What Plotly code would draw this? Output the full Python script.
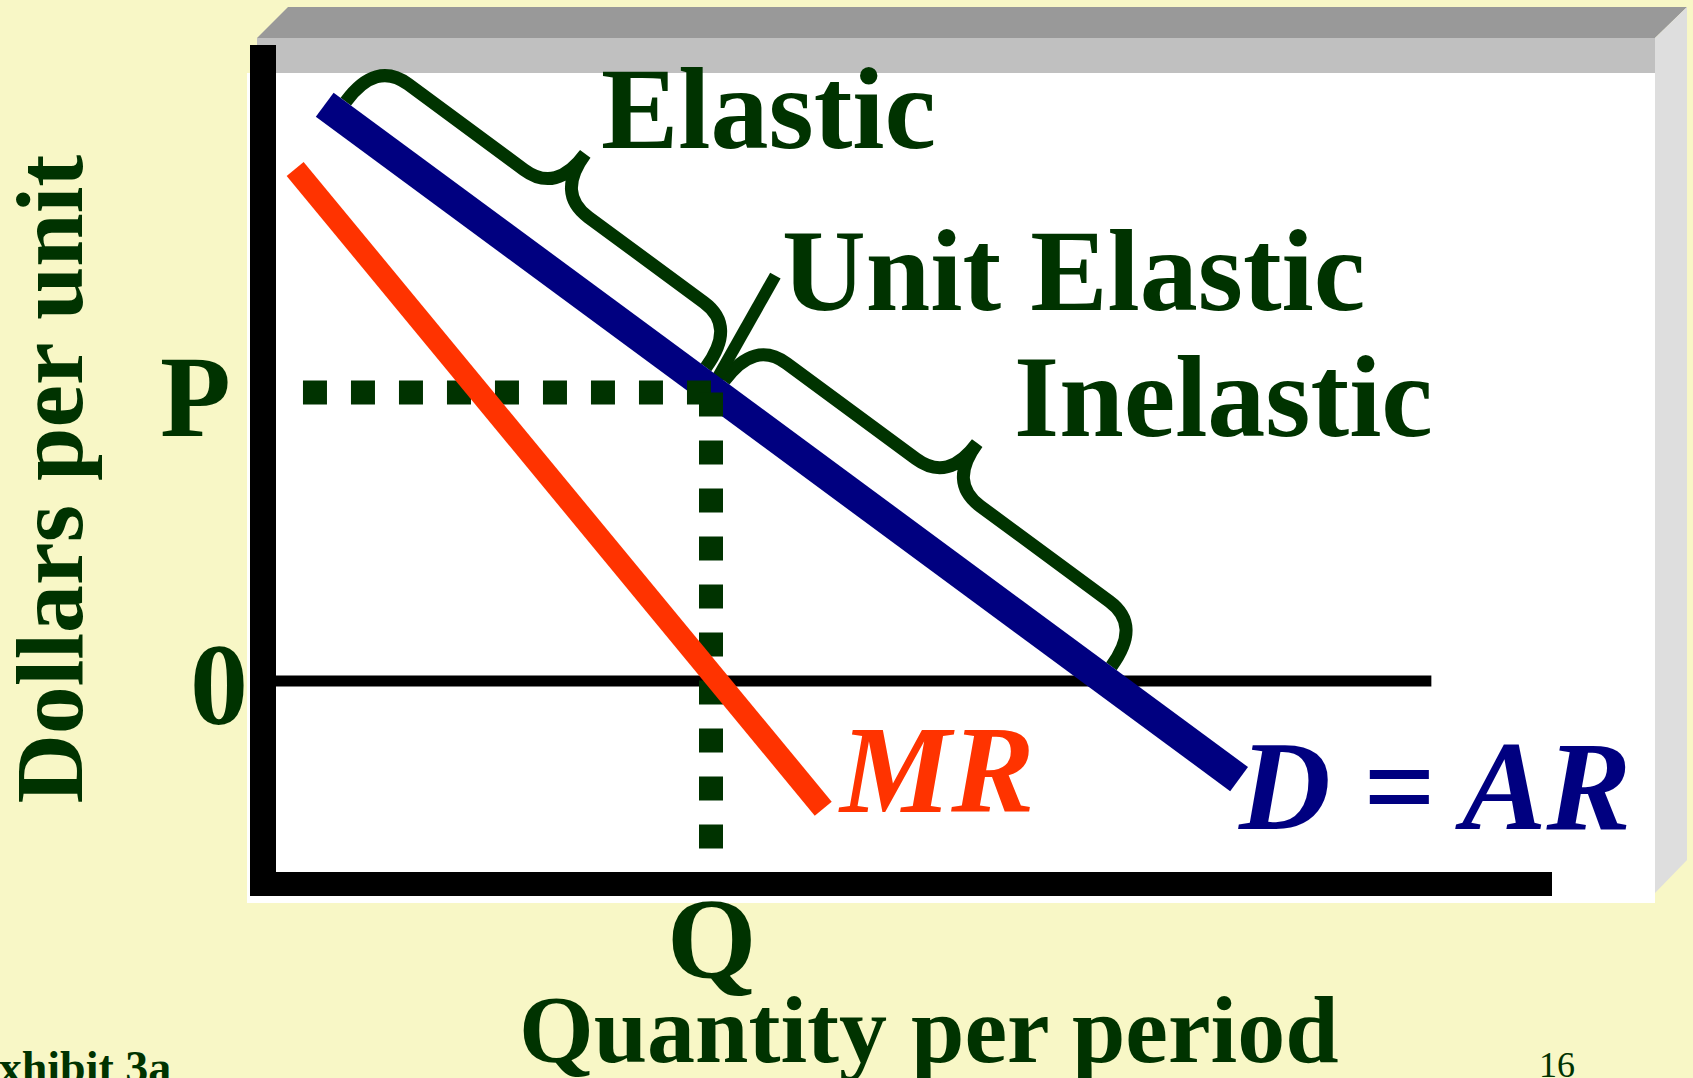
import math
import plotly.graph_objects as go

W, H = 1693, 1078

# ---------------- data (economic units: quantity on x, dollars on y) ----------------
demand_q = [0.56, 11.07]          # D = AR line end points
demand_p = [7.99, -1.36]
mr_q = [0.22, 6.29]               # MR line end points
mr_p = [7.10, -1.77]
q_star = 5.0                      # unit-elastic quantity Q
p_star = 4.0                      # price P
guide_q_start = 0.31              # dotted price guide starts here
guide_p_end = -2.33               # dotted quantity guide ends here
zero_line_q = [0.0, 13.28]        # extent of the zero-dollar line
elastic_q = [0.70, 4.84]          # elastic brace span along demand
inelastic_q = [5.05, 9.50]        # inelastic brace span along demand
unit_pointer_q = [5.74, 5.05]     # pointer from "Unit Elastic" to the demand curve
unit_pointer_p = [5.62, 4.15]

region_labels = ["Elastic", "Unit Elastic", "Inelastic"]
axis_titles = ["Dollars per unit", "Quantity per period"]
tick_labels = ["P", "0", "Q"]
curve_labels = ["MR", "D = AR"]
footer_labels = ["Exhibit 3a", "16"]

# ---------------- styling ----------------
GREEN = "#003300"
NAVY = "#000080"
RED = "#FF3300"
BG = "#F8F7C6"
FONT = "Liberation Serif, Times New Roman, serif"

# pixel mapping of the economic axes (origin at the zero line / vertical axis)
ORIGIN_X, ORIGIN_Y = 276.0, 681.0
SX, SY = 87.0, 72.125
x_range = [(0 - ORIGIN_X) / SX, (W - ORIGIN_X) / SX]
y_range = [(ORIGIN_Y - H) / SY, ORIGIN_Y / SY]


def to_px(q, p):
    return ORIGIN_X + q * SX, ORIGIN_Y - p * SY


def to_data(x, y):
    return (x - ORIGIN_X) / SX, (ORIGIN_Y - y) / SY


def demand_at(q):
    t = (q - demand_q[0]) / (demand_q[1] - demand_q[0])
    return demand_p[0] + t * (demand_p[1] - demand_p[0])


def brace_path(q_a, q_b, vb=66, ve=15, r=40, c=49):
    x0, y0 = to_px(demand_q[0], demand_p[0])
    x1, y1 = to_px(demand_q[1], demand_p[1])
    L = math.hypot(x1 - x0, y1 - y0)
    dx, dy = (x1 - x0) / L, (y1 - y0) / L
    nx, ny = dy, -dx
    ax, ay = to_px(q_a, demand_at(q_a))
    bx, by = to_px(q_b, demand_at(q_b))
    length = math.hypot(bx - ax, by - ay)
    m = length / 2

    def P(u, v):
        q, p = to_data(ax + u * dx + v * nx, ay + u * dy + v * ny)
        return f"{q:.4f},{p:.4f}"

    return (f"M {P(0, ve)} Q {P(0, vb)} {P(r, vb)} L {P(m - r, vb)} "
            f"Q {P(m, vb)} {P(m, vb + c)} Q {P(m, vb)} {P(m + r, vb)} "
            f"L {P(length - r, vb)} Q {P(length, vb)} {P(length, ve)}")


def px_poly(points):
    return "M " + " L ".join(f"{x / W:.5f},{1 - y / H:.5f}" for x, y in points) + " Z"


def px_rect(x0, y0, x1, y1, color):
    return dict(type="rect", xref="paper", yref="paper", x0=x0 / W, x1=x1 / W,
                y0=1 - y1 / H, y1=1 - y0 / H, fillcolor=color, line=dict(width=0),
                layer="below")


shapes = [
    # slide frame
    dict(type="path", xref="paper", yref="paper",
         path=px_poly([(288, 7), (1687, 7), (1655, 38), (257, 38)]),
         fillcolor="#999999", line=dict(width=0), layer="below"),
    dict(type="path", xref="paper", yref="paper",
         path=px_poly([(1655, 38), (1687, 7), (1687, 860), (1655, 893)]),
         fillcolor="#DEDEDE", line=dict(width=0), layer="below"),
    px_rect(257, 38, 1655, 73, "#C0C0C0"),
    px_rect(247, 73, 1655, 903, "#FFFFFF"),
    # axes
    px_rect(250, 45, 276, 896, "#000000"),
    px_rect(250, 872, 1552, 896, "#000000"),
    # zero line
    dict(type="line", xref="x", yref="y", x0=zero_line_q[0], x1=zero_line_q[1], y0=0, y1=0,
         line=dict(color="#000000", width=11), layer="below"),
    # braces
    dict(type="path", xref="x", yref="y", path=brace_path(*elastic_q),
         fillcolor="rgba(0,0,0,0)", line=dict(color=GREEN, width=13), layer="below"),
    dict(type="path", xref="x", yref="y", path=brace_path(*inelastic_q),
         fillcolor="rgba(0,0,0,0)", line=dict(color=GREEN, width=13), layer="below"),
    dict(type="line", xref="x", yref="y", x0=unit_pointer_q[0], y0=unit_pointer_p[0],
         x1=unit_pointer_q[1], y1=unit_pointer_p[1],
         line=dict(color=GREEN, width=12), layer="below"),
]

fig = go.Figure()
fig.add_trace(go.Scatter(x=demand_q, y=demand_p, mode="lines",
                         line=dict(color=NAVY, width=30), hoverinfo="skip"))
fig.add_trace(go.Scatter(x=[guide_q_start, q_star], y=[p_star, p_star], mode="lines",
                         line=dict(color=GREEN, width=24, dash="24px,24px"), hoverinfo="skip"))
fig.add_trace(go.Scatter(x=[q_star, q_star], y=[p_star, guide_p_end], mode="lines",
                         line=dict(color=GREEN, width=24, dash="24px,24px"), hoverinfo="skip"))
fig.add_trace(go.Scatter(x=mr_q, y=mr_p, mode="lines",
                         line=dict(color=RED, width=22), hoverinfo="skip"))

K = 0.3375  # baseline offset from text-box centre, in em


def label(text, x_px, baseline_px, size, color=GREEN, weight="bold", style="normal",
          xanchor="left"):
    cy = baseline_px - K * size
    return dict(text=text, x=x_px / W, y=1 - cy / H, xref="paper", yref="paper",
                xanchor=xanchor, yanchor="middle", showarrow=False,
                font=dict(family=FONT, size=size, color=color, weight=weight, style=style))


annotations = [
    label(region_labels[0], 599, 148, 116),
    label(region_labels[1], 780, 310, 116),
    label(region_labels[2], 1012, 436, 116),
    label(tick_labels[0], 158, 436, 116),
    label(tick_labels[1], 188, 724, 116),
    label(tick_labels[2], 665, 977, 115),
    label(axis_titles[1], 517, 1062, 96),
    label(curve_labels[0], 836, 812, 125, color=RED, style="italic"),
    label(curve_labels[1], 1236, 829, 127, color=NAVY, style="italic"),
    label(footer_labels[0], 173, 1083, 46, xanchor="right"),
    label(footer_labels[1], 1537, 1077, 36, weight="normal"),
    dict(text=axis_titles[0], x=(82 - K * 96) / W, y=1 - 479 / H, xref="paper", yref="paper",
         xanchor="center", yanchor="middle", showarrow=False, textangle=-90,
         font=dict(family=FONT, size=96, color=GREEN, weight="bold")),
]

fig.update_layout(
    width=W, height=H, margin=dict(l=0, r=0, t=0, b=0, pad=0),
    paper_bgcolor=BG, plot_bgcolor="rgba(0,0,0,0)", showlegend=False,
    xaxis=dict(visible=False, range=x_range, fixedrange=True),
    yaxis=dict(visible=False, range=y_range, fixedrange=True),
    shapes=shapes, annotations=annotations,
)

fig.write_html("out.html", config={"displayModeBar": False},
               post_script="document.body.style.margin='0';document.body.style.overflow='hidden';")
